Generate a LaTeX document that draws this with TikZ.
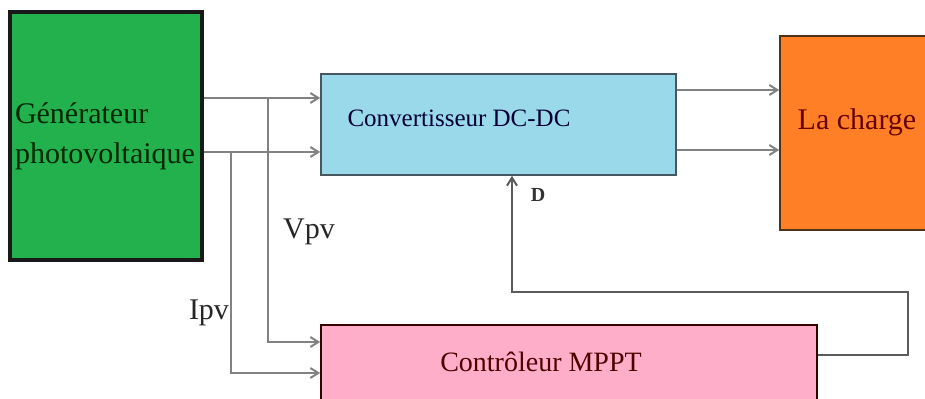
\documentclass[tikz,border=0pt]{standalone}
\usepackage{fontspec}
\setmainfont{Liberation Serif}
\usetikzlibrary{arrows.meta}
\definecolor{pvgreen}{RGB}{34,177,76}
\definecolor{convblue}{RGB}{153,217,234}
\definecolor{loadorange}{RGB}{255,127,39}
\definecolor{ctrlpink}{RGB}{255,174,201}
\definecolor{wire}{RGB}{130,130,130}
\begin{document}
\begin{tikzpicture}[x=0.5pt, y=-0.5pt, >={Straight Barb[length=4pt,width=5pt]},
  blk/.style={draw, inner sep=0pt},
  flow/.style={->, wire, line width=1pt},
  lbl/.style={font=\fontsize{15}{18}\selectfont, text=black!85}]
  \useasboundingbox (0,0) rectangle (925,399);
  \clip (0,0) rectangle (925,399);
  \node[blk,fill=pvgreen,line width=2pt,draw=black!90,minimum width=96pt,minimum height=124pt,
        text width=91pt,align=left,inner xsep=2pt,text=green!15!black,font=\fontsize{15}{20}\selectfont] (gen) at (106,136) {Générateur photovoltaique};
  \node[blk,fill=convblue,draw=cyan!30!black,line width=0.8pt,minimum width=177.5pt,minimum height=50.5pt] (conv) at (498.5,124.5) {};
  \node[blk,fill=loadorange,draw=brown!40!black,line width=0.8pt,minimum width=80pt,minimum height=97pt] (load) at (860,133) {};
  \node[blk,fill=ctrlpink,draw=red!20!black,line width=0.8pt,minimum width=248pt,minimum height=47.5pt] (ctrl) at (569,372.5) {};
  \node[font=\fontsize{12.5}{15}\selectfont,text=blue!20!black] (convtxt) at (459,118) {Convertisseur DC-DC};
  \node[font=\fontsize{15}{18}\selectfont,text=red!40!black] (loadtxt) at (857,122) {La charge};
  \node[font=\fontsize{14}{17}\selectfont,text=red!30!black] (ctrltxt) at (541,362) {Contrôleur MPPT};
  \node[lbl] (vpv) at (309,232) {Vpv};
  \node[lbl] (ipv) at (209,313) {Ipv};
  \node[font=\fontsize{10}{12}\selectfont\bfseries,text=black!80] (dlbl) at (538,195) {D};
  % junctions and return path
  \coordinate (vtap) at (268,98);
  \coordinate (itap) at (231,152);
  \coordinate (fb) at (908,292);
  \draw[flow] (gen.east |- 0,98) -- (conv.west |- 0,98);
  \draw[flow] (gen.east |- 0,152) -- (conv.west |- 0,152);
  \draw[flow] (vtap) |- (ctrl.west |- 0,342);
  \draw[flow] (itap) |- (ctrl.west |- 0,373);
  \draw[flow] (conv.east |- 0,90) -- (load.west |- 0,90);
  \draw[flow] (conv.east |- 0,150) -- (load.west |- 0,150);
  \draw[flow,wire!70!black] (ctrl.east |- 0,355) -| (fb) -| (conv.south -| 512,0);
\end{tikzpicture}
\end{document}
